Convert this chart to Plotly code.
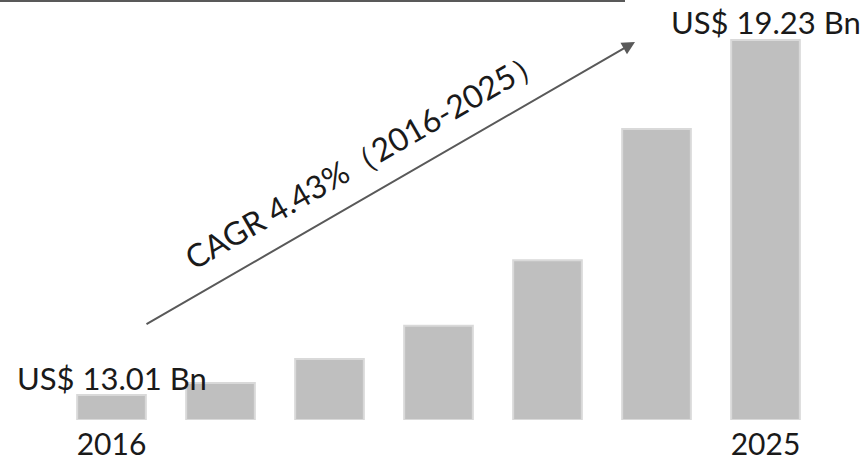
import plotly.graph_objects as go

# Data
years = ["2016", "", "", "", "", "", "2025"]
values = [13.01, 13.22, 13.64, 14.22, 15.37, 17.67, 19.23]
baseline = 12.57
start_label = "US$ 13.01 Bn"
end_label = "US$ 19.23 Bn"
cagr_text = "CAGR 4.43%（2016-2025）"

x = list(range(len(values)))
FONT = "Lato, 'Noto Sans', sans-serif"
TXT = "#1a1a1a"

fig = go.Figure()
fig.add_trace(go.Bar(
    x=x, y=[v - baseline for v in values], base=baseline,
    width=0.63,
    marker=dict(color="#bfbfbf", line=dict(color="#d9d9d9", width=2)),
    hoverinfo="skip",
))

fig.update_layout(
    width=866, height=461,
    margin=dict(l=0, r=0, t=0, b=41),
    paper_bgcolor="white", plot_bgcolor="white",
    showlegend=False,
    xaxis=dict(range=[-1.023, 6.922], tickvals=[0, 6], ticktext=[years[0], years[-1]],
               showgrid=False, zeroline=False, showline=False, ticks="",
               ticklabelstandoff=4, automargin=False,
               tickfont=dict(family=FONT, size=30, color=TXT)),
    yaxis=dict(range=[baseline, baseline + 420 / 380 * (values[-1] - baseline)],
               visible=False, showgrid=False, zeroline=False),
)

# top rule line
fig.add_shape(type="line", xref="paper", yref="paper", x0=0, x1=625 / 866, y0=1 - 1 / 420, y1=1 - 1 / 420,
              line=dict(color="#595959", width=2))

# value labels
fig.add_annotation(x=0, y=values[0], text=start_label, showarrow=False, yanchor="middle", yshift=17,
                   font=dict(family=FONT, size=31, color=TXT))
fig.add_annotation(x=6, y=values[-1], text=end_label, showarrow=False, yanchor="middle", yshift=18,
                   font=dict(family=FONT, size=31, color=TXT))

# CAGR arrow
fig.add_annotation(xref="paper", yref="paper", x=635 / 866, y=1 - 42 / 420,
                   ax=145 - 635, ay=325 - 42, axref="pixel", ayref="pixel",
                   showarrow=True, arrowhead=2, arrowsize=1.3, arrowwidth=2, arrowcolor="#595959", text="")
fig.add_annotation(xref="paper", yref="paper", x=363 / 866, y=1 - 158 / 420, text=cagr_text,
                   showarrow=False, textangle=-30, font=dict(family=FONT, size=32, color=TXT))

fig.write_html("out.html")
